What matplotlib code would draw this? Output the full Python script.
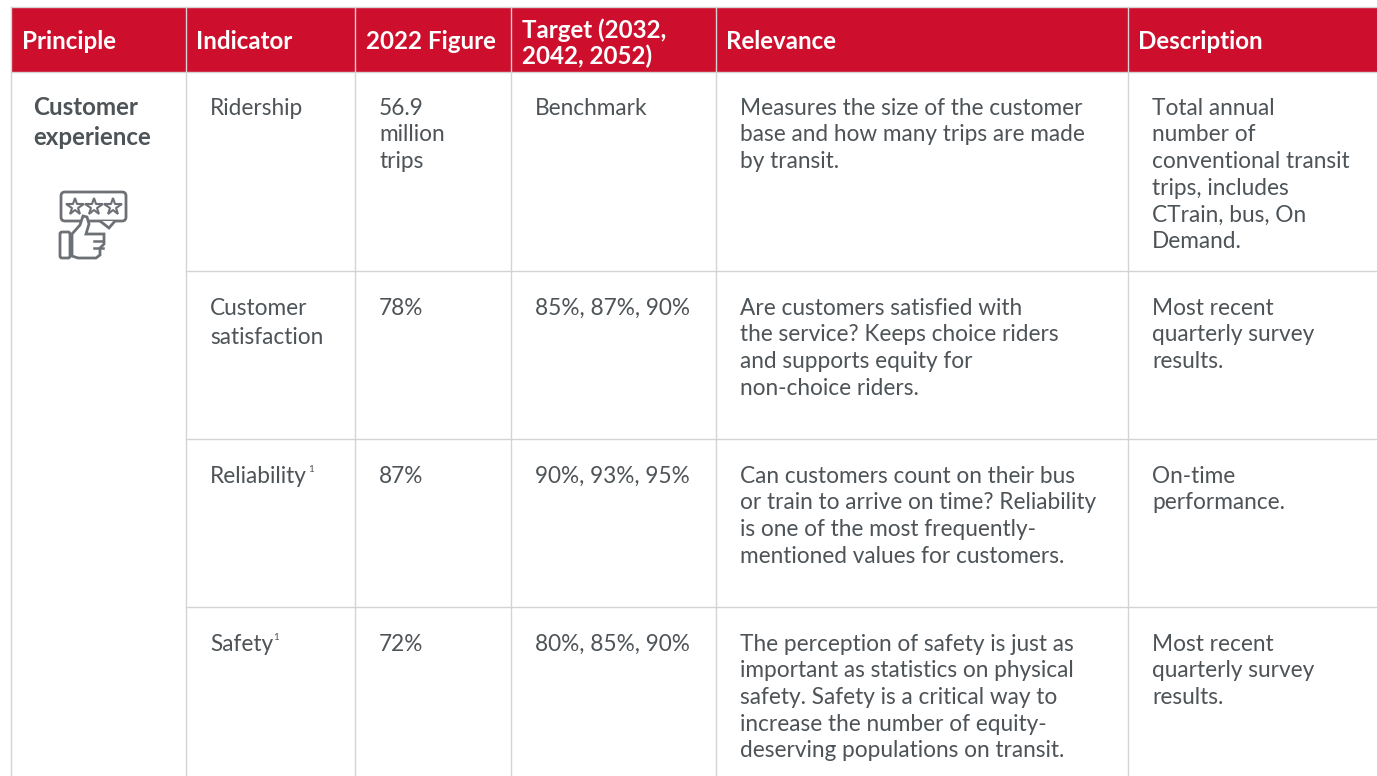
import matplotlib
matplotlib.use("Agg")
import matplotlib.pyplot as plt
from matplotlib.patches import Rectangle, FancyBboxPatch, Polygon

plt.rcParams['font.family'] = ['Lato', 'DejaVu Sans']

RED = '#cd0f2d'
GREY = '#4d5357'
LINE = '#d4d4d4'

headers = ['Principle', 'Indicator', '2022 Figure', 'Target (2032,\n2042, 2052)', 'Relevance', 'Description']
principle = ['Customer', 'experience']
indicators = [['Ridership'], ['Customer', 'satisfaction'], ['Reliability'], ['Safety']]
figures = [['56.9', 'million', 'trips'], ['78%'], ['87%'], ['72%']]
targets = ['Benchmark', '85%, 87%, 90%', '90%, 93%, 95%', '80%, 85%, 90%']
relevance = [
    ['Measures the size of the customer', 'base and how many trips are made', 'by transit.'],
    ['Are customers satisfied with', 'the service? Keeps choice riders', 'and supports equity for', 'non-choice riders.'],
    ['Can customers count on their bus', 'or train to arrive on time? Reliability', 'is one of the most frequently-', 'mentioned values for customers.'],
    ['The perception of safety is just as', 'important as statistics on physical', 'safety. Safety is a critical way to', 'increase the number of equity-', 'deserving populations on transit.'],
]
description = [
    ['Total annual', 'number of', 'conventional transit', 'trips, includes', 'CTrain, bus, On', 'Demand.'],
    ['Most recent', 'quarterly survey', 'results.'],
    ['On-time', 'performance.'],
    ['Most recent', 'quarterly survey', 'results.'],
]

col_x = [11, 186, 355, 511, 716, 1128]
row_y = [72, 271, 439, 607]
first_base = [114.6, 314.6, 482.6, 650.6]
header_top = 7
W, H = 1377, 776
FS = 16.3
HFS = 17.4
PITCH = 26.7

fig = plt.figure(figsize=(13.77, 7.76), dpi=100)
ax = fig.add_axes([0, 0, 1, 1])
ax.set_xlim(0, W)
ax.set_ylim(H, 0)
ax.axis('off')

# header band
ax.add_patch(Rectangle((col_x[0], header_top), W - col_x[0], row_y[0] - header_top, fc=RED, ec='none'))
ax.plot([col_x[0], W], [header_top, header_top], color=LINE, lw=1)

# grid
for x in col_x:
    ax.plot([x, x], [header_top, H], color=LINE, lw=1)
for y in row_y:
    ax.plot([col_x[1] if y != row_y[0] else col_x[0], W], [y, y], color=LINE, lw=1)

# header text
for x, h in zip(col_x, headers):
    if '\n' in h:
        a, b = h.split('\n')
        ax.text(x + 10.5, 37.5, a, color='white', fontsize=HFS, fontweight='bold')
        ax.text(x + 10.5, 64.5, b, color='white', fontsize=HFS, fontweight='bold')
    else:
        ax.text(x + 10.5, 49, h, color='white', fontsize=HFS, fontweight='bold')

# first column
ax.text(33.5, 114.6, principle[0], color=GREY, fontsize=HFS, fontweight='bold')
ax.text(33.5, 144.6, principle[1], color=GREY, fontsize=HFS, fontweight='bold')

# body rows
for r, base in enumerate(first_base):
    pitch = 29 if r == 1 else PITCH
    for i, t in enumerate(indicators[r]):
        ax.text(col_x[1] + 24, base + i * pitch, t, color=GREY, fontsize=FS)
    for i, t in enumerate(figures[r]):
        ax.text(col_x[2] + 24, base + i * PITCH, t, color=GREY, fontsize=FS)
    ax.text(col_x[3] + 24, base, targets[r], color=GREY, fontsize=FS)
    for i, t in enumerate(relevance[r]):
        ax.text(col_x[4] + 24, base + i * PITCH, t, color=GREY, fontsize=FS)
    for i, t in enumerate(description[r]):
        ax.text(col_x[5] + 24, base + i * PITCH, t, color=GREY, fontsize=FS)

# footnote marks
ax.text(308, 472, '1', color=GREY, fontsize=7)
ax.text(273, 640, '1', color=GREY, fontsize=7)

# thumbs up icon
IC = '#6d7175'
ax.add_patch(FancyBboxPatch((61, 192), 65, 29, boxstyle='round,pad=0,rounding_size=4', fc='white', ec=IC, lw=2))
for cx in (75, 94, 113):
    ax.plot(cx, 207, marker='*', ms=13, mfc='white', mec=IC, mew=1.5)
ax.add_patch(Polygon([[100, 221], [109, 228], [115, 221]], closed=False, fc='white', ec=IC, lw=2))
ax.add_patch(FancyBboxPatch((60, 232), 10, 26, boxstyle='round,pad=0,rounding_size=2', fc='white', ec=IC, lw=2))
ax.add_patch(Polygon([[72, 256], [72, 234], [80, 225], [83, 216], [87, 217], [89, 224], [86, 234],
                      [104, 234], [104, 244], [100, 248], [100, 255], [96, 258], [78, 258]],
                     closed=True, fc='white', ec=IC, lw=2))
for y in (241, 248):
    ax.plot([94, 103], [y, y], color=IC, lw=1.8)

fig.savefig('out.png', dpi=100)
